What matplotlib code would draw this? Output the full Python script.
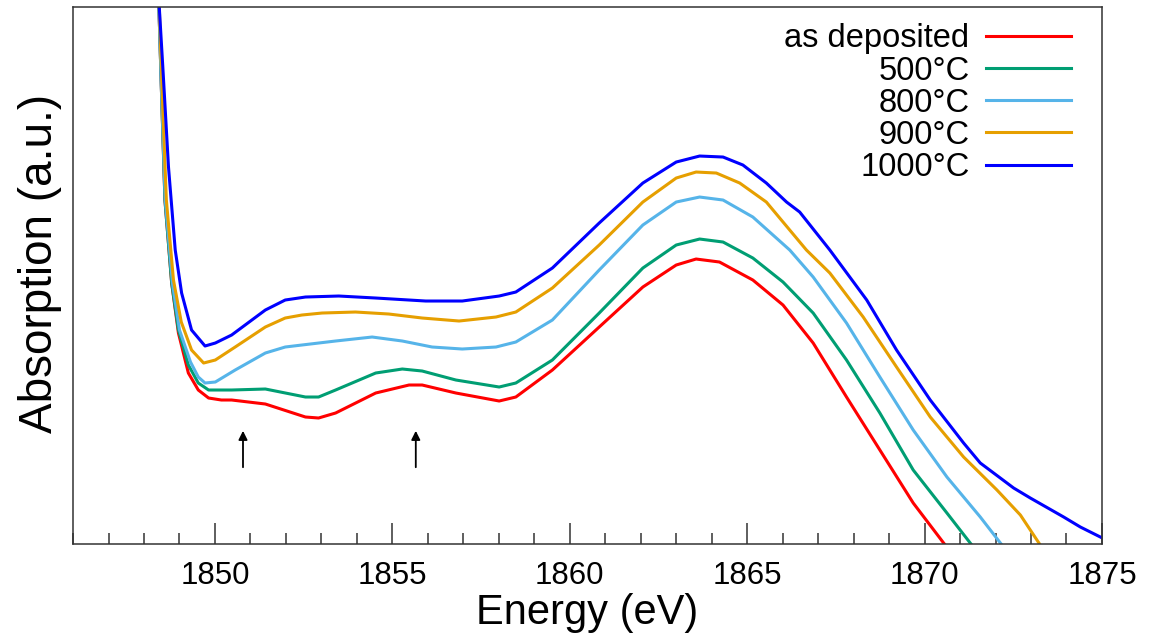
import matplotlib.pyplot as plt
from matplotlib.ticker import MultipleLocator

plt.rcParams['font.family'] = ['Liberation Sans', 'DejaVu Sans']

# energies (eV) and absorption (a.u.)
E_dep = [1848.39, 1848.42, 1848.50, 1848.59, 1848.78, 1848.97, 1849.25, 1849.53, 1849.82, 1850.18,
         1850.47, 1851.42, 1852.55, 1852.92, 1853.40, 1854.53, 1855.47, 1855.84, 1856.79, 1858.01,
         1858.48, 1859.51, 1860.83, 1862.06, 1863.00, 1863.56, 1864.22, 1865.16, 1866.01, 1866.86,
         1867.80, 1868.74, 1869.68, 1870.58]
A_dep = [5.84, 5.37, 4.44, 3.44, 2.61, 2.11, 1.71, 1.54, 1.46, 1.44,
         1.44, 1.40, 1.27, 1.26, 1.31, 1.51, 1.59, 1.59, 1.51, 1.43,
         1.47, 1.74, 2.17, 2.57, 2.79, 2.85, 2.82, 2.64, 2.39, 2.01,
         1.47, 0.94, 0.41, -0.01]

E_500 = [1848.39, 1848.42, 1848.50, 1848.59, 1848.78, 1848.97, 1849.25, 1849.53, 1849.82, 1850.47,
         1851.42, 1852.55, 1852.92, 1853.40, 1854.53, 1855.28, 1855.84, 1856.79, 1858.01, 1858.48,
         1859.51, 1860.83, 1862.06, 1863.00, 1863.66, 1864.32, 1865.16, 1866.01, 1866.86, 1867.80,
         1868.74, 1869.68, 1870.63, 1871.33]
A_500 = [5.84, 5.37, 4.44, 3.44, 2.61, 2.14, 1.79, 1.61, 1.54, 1.54,
         1.55, 1.47, 1.47, 1.54, 1.71, 1.75, 1.73, 1.64, 1.57, 1.61,
         1.84, 2.31, 2.76, 2.99, 3.05, 3.02, 2.86, 2.62, 2.31, 1.84,
         1.31, 0.74, 0.31, -0.01]

E_800 = [1848.39, 1848.42, 1848.50, 1848.60, 1848.80, 1849.00, 1849.31, 1849.53, 1849.72, 1850.01,
         1850.57, 1851.42, 1851.98, 1852.45, 1853.40, 1854.43, 1855.28, 1856.12, 1856.97, 1857.92,
         1858.48, 1859.51, 1860.83, 1862.06, 1863.00, 1863.66, 1864.32, 1865.16, 1866.20, 1866.86,
         1867.80, 1868.74, 1869.68, 1870.63, 1871.57, 1872.18]
A_800 = [5.84, 5.37, 4.44, 3.44, 2.61, 2.14, 1.82, 1.67, 1.61, 1.62,
         1.74, 1.91, 1.97, 1.99, 2.03, 2.07, 2.03, 1.97, 1.95, 1.97,
         2.02, 2.24, 2.74, 3.19, 3.42, 3.47, 3.44, 3.27, 2.94, 2.67,
         2.21, 1.67, 1.14, 0.67, 0.27, -0.01]

E_900 = [1848.39, 1848.43, 1848.52, 1848.63, 1848.83, 1849.05, 1849.34, 1849.68, 1850.01, 1850.57,
         1851.42, 1851.98, 1852.45, 1853.02, 1853.96, 1854.90, 1855.84, 1856.88, 1857.92, 1858.48,
         1859.51, 1860.83, 1862.06, 1863.00, 1863.56, 1864.13, 1864.79, 1865.54, 1866.67, 1867.33,
         1868.27, 1869.21, 1870.16, 1871.10, 1872.04, 1872.70, 1873.26]
A_900 = [5.84, 5.37, 4.44, 3.44, 2.64, 2.22, 1.94, 1.81, 1.84, 1.97,
         2.17, 2.26, 2.29, 2.31, 2.32, 2.30, 2.26, 2.23, 2.27, 2.32,
         2.56, 2.99, 3.42, 3.66, 3.72, 3.71, 3.61, 3.42, 2.94, 2.71,
         2.27, 1.77, 1.27, 0.87, 0.54, 0.29, -0.01]

E_1000 = [1848.40, 1848.43, 1848.53, 1848.69, 1848.88, 1849.06, 1849.34, 1849.72, 1850.01, 1850.47,
          1851.42, 1851.98, 1852.55, 1853.49, 1854.53, 1855.94, 1856.97, 1858.01, 1858.48, 1859.51,
          1860.83, 1862.06, 1863.00, 1863.66, 1864.32, 1864.88, 1865.54, 1866.11, 1866.48, 1867.33,
          1868.37, 1869.21, 1870.16, 1871.10, 1871.57, 1872.51, 1872.98, 1873.92, 1874.39, 1875.01]
A_1000 = [5.84, 5.37, 4.77, 3.77, 2.94, 2.51, 2.14, 1.98, 2.01, 2.09,
          2.34, 2.44, 2.47, 2.48, 2.46, 2.43, 2.43, 2.48, 2.52, 2.76,
          3.21, 3.61, 3.82, 3.88, 3.87, 3.79, 3.61, 3.42, 3.32, 2.94,
          2.44, 1.94, 1.44, 1.01, 0.81, 0.56, 0.46, 0.27, 0.17, 0.06]

labels = ['as deposited', '500°C', '800°C', '900°C', '1000°C']
colors = ['#ff0000', '#009e73', '#56b4e9', '#e69f00', '#0000ff']
arrow_E = [1850.79, 1855.66]

fig = plt.figure(figsize=(11.65, 6.4), dpi=100)
ax = fig.add_axes([0.0627, 0.15, 0.8832, 0.839])

series = [(E_dep, A_dep), (E_500, A_500), (E_800, A_800), (E_900, A_900), (E_1000, A_1000)]
for (e, a), lab, c in zip(series, labels, colors):
    ax.plot(e, a, color=c, lw=2.2, label=lab)

for xa in arrow_E:
    ax.annotate('', xy=(xa, 1.16), xytext=(xa, 0.74),
                arrowprops=dict(arrowstyle='-|>', color='black', lw=1.3, mutation_scale=13))

ax.set_xlim(1846.0, 1875)
ax.set_ylim(0, 5.37)
ax.xaxis.set_major_locator(MultipleLocator(5))
ax.xaxis.set_minor_locator(MultipleLocator(1))
ax.set_yticks([])
ax.tick_params(axis='x', which='both', direction='in', top=False, colors='#333333', labelcolor='black',
               labelsize=22.5, pad=12)
ax.tick_params(axis='x', which='major', length=15, width=1.1)
ax.tick_params(axis='x', which='minor', length=8, width=1.1)
for s in ax.spines.values():
    s.set_color('#333333')
    s.set_linewidth(1.1)

ax.set_xlabel('Energy (eV)', fontsize=30, labelpad=2)
ax.set_ylabel('Absorption (a.u.)', fontsize=33)
ax.yaxis.set_label_coords(-0.011, 0.523)

leg = ax.legend(loc='upper right', bbox_to_anchor=(0.995, 1.018), frameon=False, markerfirst=False,
                fontsize=23.5, handlelength=2.6, handletextpad=0.5, labelspacing=0.035, borderpad=0.3)

fig.savefig('out.png', dpi=100)
